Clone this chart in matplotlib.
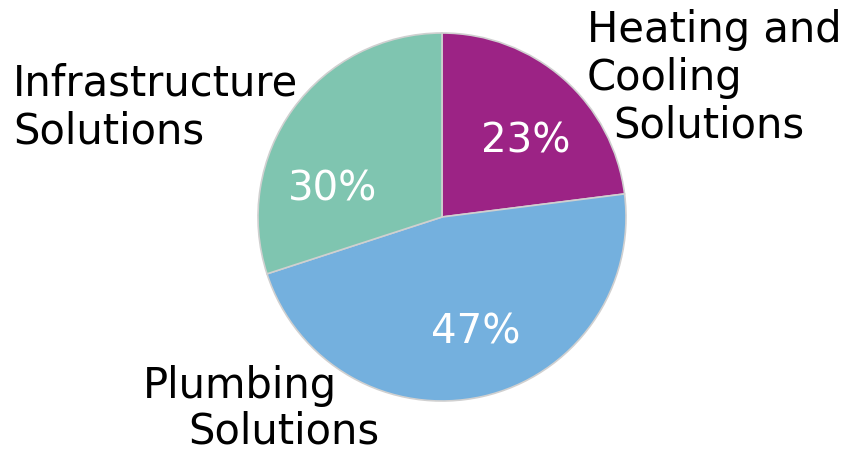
import matplotlib.pyplot as plt

segments = ["Heating and Cooling Solutions", "Plumbing Solutions", "Infrastructure Solutions"]
shares = [23, 47, 30]
colors = ["#9c2385", "#74b0de", "#7fc5b0"]

# percent label anchors (baseline) in pie units (radius = 1), tuned to the reference
pct_pos = [(0.457, 0.353), (0.185, -0.685), (-0.592, 0.092)]

fig = plt.figure(figsize=(8.43, 4.55), dpi=100)
fig.patch.set_facecolor("white")
ax = fig.add_axes([258 / 843, (455 - 217 - 184) / 455, 368 / 843, 368 / 455])

wedges, _, autotexts = ax.pie(
    shares,
    colors=colors,
    startangle=90,
    counterclock=False,
    radius=1.0,
    autopct="%d%%",
    wedgeprops={"edgecolor": "#d0d0d0", "linewidth": 1.2},
    textprops={"color": "white", "fontsize": 29},
)
for t, pos in zip(autotexts, pct_pos):
    t.set_position(pos)
    t.set_ha("center")
    t.set_va("baseline")
ax.set_xlim(-1, 1)
ax.set_ylim(-1, 1)
ax.set_aspect("equal")

lbl = {"fontsize": 30, "color": "black", "ha": "left", "va": "baseline"}
fig.text(587 / 843, 1 - 42 / 455, "Heating and", **lbl)
fig.text(587 / 843, 1 - 90 / 455, "Cooling", **lbl)
fig.text(613 / 843, 1 - 138 / 455, "Solutions", **lbl)
fig.text(13 / 843, 1 - 95 / 455, "Infrastructure", **lbl)
fig.text(13 / 843, 1 - 143 / 455, "Solutions", **lbl)
fig.text(143 / 843, 1 - 398 / 455, "Plumbing", **lbl)
fig.text(188 / 843, 1 - 444 / 455, "Solutions", **lbl)

fig.savefig("out.png", dpi=100)
